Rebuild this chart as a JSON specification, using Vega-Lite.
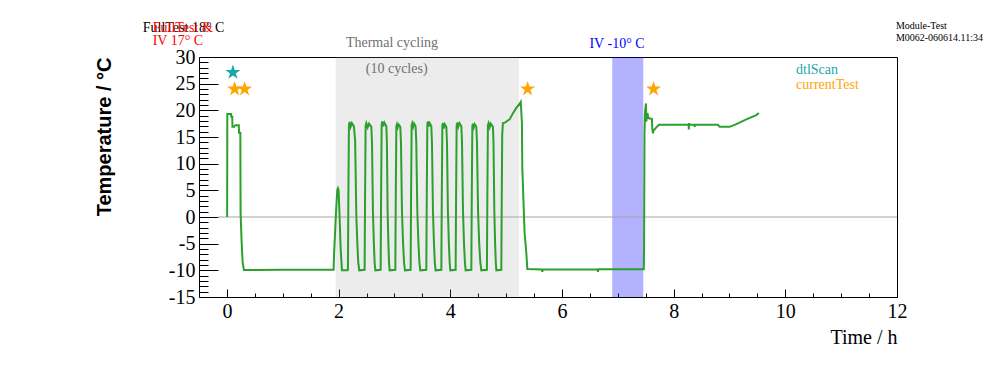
{
  "$schema": "https://vega.github.io/schema/vega-lite/v6.json",
  "width": 698,
  "height": 240,
  "autosize": {"type": "none"},
  "padding": {"left": 199, "top": 57, "right": 99, "bottom": 75},
  "background": "white",
  "config": {
    "view": {"stroke": "black", "strokeWidth": 1},
    "font": "Liberation Serif"
  },
  "resolve": {"axis": {"x": "independent", "y": "independent"}},
  "datasets": {
    "temperature": [
      {"time":0.004,"temp":0},{"time":0.007,"temp":19.3},{"time":0.072,"temp":19.3},{"time":0.078,"temp":18.8},{"time":0.096,"temp":18.8},{"time":0.099,"temp":16.9},{"time":0.13,"temp":16.9},{"time":0.15,"temp":17.2},{"time":0.213,"temp":17.2},{"time":0.217,"temp":15.8},{"time":0.24,"temp":15.8},{"time":0.245,"temp":0.7},{"time":0.263,"temp":-4.6},{"time":0.281,"temp":-8.4},{"time":0.304,"temp":-9.95},{"time":1.0,"temp":-9.9},{"time":1.911,"temp":-9.9},{"time":1.916,"temp":-7.7},{"time":1.941,"temp":-2},{"time":1.959,"temp":1.9},{"time":1.977,"temp":5.1},{"time":1.988,"temp":5.4},{"time":2.0,"temp":5.0},{"time":2.018,"temp":0},{"time":2.036,"temp":-5.8},{"time":2.06,"temp":-10},{"time":2.162,"temp":-10},
      {"time":2.167,"temp":-9.9},{"time":2.175,"temp":4},{"time":2.185,"temp":17.2},{"time":2.197,"temp":17.8},{"time":2.215,"temp":16.9},{"time":2.237,"temp":17.6},{"time":2.274,"temp":17.0},{"time":2.296,"temp":14.4},{"time":2.318,"temp":0},{"time":2.336,"temp":-5},{"time":2.352,"temp":-8.5},{"time":2.37,"temp":-10},
      {"time":2.466,"temp":-9.9},{"time":2.474,"temp":4},{"time":2.484,"temp":17.1},{"time":2.496,"temp":17.6},{"time":2.52,"temp":16.8},{"time":2.545,"temp":17.5},{"time":2.586,"temp":16.9},{"time":2.598,"temp":14},{"time":2.615,"temp":1},{"time":2.632,"temp":-5},{"time":2.645,"temp":-8.5},{"time":2.658,"temp":-10},
      {"time":2.753,"temp":-9.9},{"time":2.761,"temp":4},{"time":2.771,"temp":17.3},{"time":2.782,"temp":17.9},{"time":2.8,"temp":17.0},{"time":2.82,"temp":17.7},{"time":2.855,"temp":17.0},{"time":2.865,"temp":14},{"time":2.878,"temp":1},{"time":2.892,"temp":-5},{"time":2.903,"temp":-8.5},{"time":2.914,"temp":-10},
      {"time":3.016,"temp":-9.9},{"time":3.024,"temp":4},{"time":3.034,"temp":17.0},{"time":3.045,"temp":17.4},{"time":3.06,"temp":16.8},{"time":3.078,"temp":17.3},{"time":3.105,"temp":16.9},{"time":3.117,"temp":14},{"time":3.135,"temp":1},{"time":3.155,"temp":-5},{"time":3.172,"temp":-8.5},{"time":3.188,"temp":-10},
      {"time":3.29,"temp":-9.9},{"time":3.298,"temp":4},{"time":3.308,"temp":17.2},{"time":3.319,"temp":17.6},{"time":3.335,"temp":16.9},{"time":3.352,"temp":17.5},{"time":3.379,"temp":17.0},{"time":3.391,"temp":14},{"time":3.41,"temp":1},{"time":3.43,"temp":-5},{"time":3.447,"temp":-8.5},{"time":3.463,"temp":-10},
      {"time":3.571,"temp":-9.9},{"time":3.579,"temp":4},{"time":3.589,"temp":17.4},{"time":3.6,"temp":17.9},{"time":3.615,"temp":17.0},{"time":3.633,"temp":17.6},{"time":3.66,"temp":17.0},{"time":3.672,"temp":14},{"time":3.69,"temp":1},{"time":3.708,"temp":-5},{"time":3.723,"temp":-8.5},{"time":3.737,"temp":-10},
      {"time":3.84,"temp":-9.9},{"time":3.848,"temp":4},{"time":3.858,"temp":17.2},{"time":3.869,"temp":17.6},{"time":3.884,"temp":16.6},{"time":3.9,"temp":17.4},{"time":3.929,"temp":16.9},{"time":3.941,"temp":14},{"time":3.958,"temp":1},{"time":3.975,"temp":-5},{"time":3.989,"temp":-8.5},{"time":4.001,"temp":-10},
      {"time":4.096,"temp":-9.9},{"time":4.104,"temp":4},{"time":4.114,"temp":17.2},{"time":4.125,"temp":17.7},{"time":4.143,"temp":16.9},{"time":4.165,"temp":17.6},{"time":4.198,"temp":17.0},{"time":4.21,"temp":14},{"time":4.228,"temp":1},{"time":4.246,"temp":-5},{"time":4.262,"temp":-8.5},{"time":4.275,"temp":-10},
      {"time":4.377,"temp":-9.9},{"time":4.385,"temp":4},{"time":4.395,"temp":17.1},{"time":4.406,"temp":17.5},{"time":4.421,"temp":16.8},{"time":4.438,"temp":17.4},{"time":4.466,"temp":16.9},{"time":4.478,"temp":14},{"time":4.498,"temp":1},{"time":4.518,"temp":-5},{"time":4.538,"temp":-8.5},{"time":4.556,"temp":-10},
      {"time":4.656,"temp":-9.9},{"time":4.664,"temp":4},{"time":4.674,"temp":17.2},{"time":4.686,"temp":17.6},{"time":4.705,"temp":16.8},{"time":4.725,"temp":17.5},{"time":4.764,"temp":16.9},{"time":4.774,"temp":14},{"time":4.789,"temp":1},{"time":4.803,"temp":-5},{"time":4.815,"temp":-8.5},{"time":4.825,"temp":-10},
      {"time":4.914,"temp":-9.9},{"time":4.922,"temp":4},{"time":4.93,"temp":15.5},{"time":4.943,"temp":17.6},{"time":4.98,"temp":17.7},{"time":5.03,"temp":18.1},{"time":5.063,"temp":18.3},{"time":5.12,"temp":19.4},{"time":5.18,"temp":20.4},{"time":5.24,"temp":21.2},{"time":5.262,"temp":21.6},{"time":5.283,"temp":17.6},{"time":5.29,"temp":9.2},{"time":5.313,"temp":2.25},{"time":5.331,"temp":-3},{"time":5.362,"temp":-6.8},{"time":5.38,"temp":-9.75},{"time":5.64,"temp":-9.85},{"time":5.648,"temp":-10.3},{"time":5.656,"temp":-9.85},{"time":6.636,"temp":-9.85},{"time":6.644,"temp":-10.3},{"time":6.652,"temp":-9.8},{"time":7.465,"temp":-9.8},{"time":7.47,"temp":-6.2},{"time":7.478,"temp":15.7},{"time":7.486,"temp":19.5},{"time":7.504,"temp":21.3},{"time":7.51,"temp":17.9},{"time":7.529,"temp":19.5},{"time":7.552,"temp":18.5},{"time":7.611,"temp":18.4},{"time":7.617,"temp":16.6},{"time":7.63,"temp":15.7},{"time":7.64,"temp":16.2},{"time":7.69,"temp":16.8},{"time":7.737,"temp":17.3},{"time":8.227,"temp":17.3},{"time":8.268,"temp":17.3},{"time":8.272,"temp":16.4},{"time":8.276,"temp":17.6},{"time":8.28,"temp":17.3},{"time":8.37,"temp":17.3},{"time":8.376,"temp":16.9},{"time":8.382,"temp":17.3},{"time":8.793,"temp":17.3},{"time":8.823,"temp":16.9},{"time":9.003,"temp":16.9},{"time":9.122,"temp":17.4},{"time":9.301,"temp":18.3},{"time":9.48,"temp":19.1},{"time":9.527,"temp":19.5}
    ],
    "tests": [
      {"time":0.107,"temp":27.1,"test":"dtlScan"},
      {"time":0.138,"temp":24.0,"test":"currentTest"},
      {"time":0.317,"temp":24.0,"test":"currentTest"},
      {"time":5.385,"temp":24.0,"test":"currentTest"},
      {"time":7.64,"temp":24.0,"test":"currentTest"}
    ],
    "phases": [
      {"phase":"Thermal cycling","start":1.948,"end":5.23},
      {"phase":"IV -10° C","start":6.9,"end":7.457}
    ],
    "one": [{}]
  },
  "layer": [
    {
      "data": {"name": "phases"},
      "mark": {"type": "rect"},
      "encoding": {
        "x": {"field": "start", "type": "quantitative", "axis": null},
        "x2": {"field": "end"},
        "fill": {
          "field": "phase", "type": "nominal",
          "scale": {"domain": ["Thermal cycling", "IV -10° C"], "range": ["#8c8c8c", "#0000ff"]},
          "legend": null
        },
        "opacity": {
          "field": "phase", "type": "nominal",
          "scale": {"domain": ["Thermal cycling", "IV -10° C"], "range": [0.17, 0.3]},
          "legend": null
        }
      }
    },
    {
      "data": {"name": "one"},
      "mark": {"type": "rule", "color": "#aaa59e", "strokeWidth": 1},
      "encoding": {
        "x": {"datum": -0.16, "type": "quantitative", "axis": null},
        "x2": {"datum": 12},
        "y": {"datum": 0, "type": "quantitative", "axis": null}
      }
    },
    {
      "data": {"name": "temperature"},
      "mark": {"type": "line", "color": "#2ca02c", "strokeWidth": 2, "strokeJoin": "miter", "strokeCap": "butt"},
      "encoding": {
        "x": {
          "field": "time", "type": "quantitative",
          "scale": {"domain": [-0.5, 12], "nice": false, "zero": false},
          "axis": {
            "orient": "bottom",
            "values": [0,0.5,1,1.5,2,2.5,3,3.5,4,4.5,5,5.5,6,6.5,7,7.5,8,8.5,9,9.5,10,10.5,11,11.5,12],
            "tickSize": {"condition": {"test": "datum.value % 2 === 0", "value": -8}, "value": -4},
            "tickColor": "black",
            "tickWidth": 1,
            "labelExpr": "datum.value % 2 === 0 ? '' + datum.value : ''",
            "labelPadding": 12,
            "labelFont": "Liberation Serif",
            "labelFontSize": 20,
            "labelColor": "black",
            "labelFlush": false,
            "labelOverlap": false,
            "domain": false,
            "grid": false,
            "title": "Time / h",
            "titleFont": "Liberation Serif",
            "titleFontSize": 20,
            "titleFontWeight": "normal",
            "titleColor": "black",
            "titleAlign": "right",
            "titleBaseline": "alphabetic",
            "titleX": 698,
            "titleY": 46
          }
        },
        "y": {
          "field": "temp", "type": "quantitative",
          "scale": {"domain": [-15, 30], "nice": false, "zero": false},
          "axis": {
            "orient": "left",
            "values": [-15,-14,-13,-12,-11,-10,-9,-8,-7,-6,-5,-4,-3,-2,-1,0,1,2,3,4,5,6,7,8,9,10,11,12,13,14,15,16,17,18,19,20,21,22,23,24,25,26,27,28,29,30],
            "tickSize": {"condition": {"test": "datum.value % 5 === 0", "value": -19}, "value": -9},
            "tickColor": "black",
            "tickWidth": 1,
            "labelExpr": "datum.value % 5 === 0 ? '' + datum.value : ''",
            "labelPadding": 23,
            "labelFont": "Liberation Serif",
            "labelFontSize": 20,
            "labelColor": "black",
            "labelFlush": false,
            "labelOverlap": false,
            "domain": false,
            "grid": false,
            "title": "Temperature / °C",
            "titleFont": "Liberation Sans",
            "titleFontSize": 20,
            "titleFontWeight": "bold",
            "titleColor": "black",
            "titleAngle": 270,
            "titleAlign": "right",
            "titleBaseline": "alphabetic",
            "titleX": -88.5,
            "titleY": 0
          }
        }
      }
    },
    {
      "data": {"name": "tests"},
      "mark": {"type": "point", "filled": true, "opacity": 1, "size": 250,
        "shape": "M0,-1L0.2245,-0.309L0.951,-0.309L0.363,0.118L0.588,0.809L0,0.382L-0.588,0.809L-0.363,0.118L-0.951,-0.309L-0.2245,-0.309Z"},
      "encoding": {
        "x": {"field": "time", "type": "quantitative", "axis": null},
        "y": {"field": "temp", "type": "quantitative", "axis": null},
        "color": {
          "field": "test", "type": "nominal",
          "scale": {"domain": ["dtlScan", "currentTest"], "range": ["#1aa7a7", "#ffa500"]},
          "legend": {
            "title": null,
            "orient": "none",
            "legendX": 583,
            "legendY": 6,
            "padding": 0,
            "symbolSize": 0,
            "symbolOpacity": 0,
            "symbolStrokeWidth": 0,
            "labelOffset": 0,
            "labelFont": "Liberation Serif",
            "labelFontSize": 14,
            "rowPadding": 1,
            "encode": {"labels": {"update": {"fill": {"scale": "color", "field": "value"}}}}
          }
        }
      }
    },
    {
      "data": {"name": "one"},
      "mark": {"type": "text", "font": "Liberation Serif", "fontSize": 14, "align": "left", "baseline": "alphabetic", "fill": "black"},
      "encoding": {"x": {"datum": -1.508, "type": "quantitative", "axis": null}, "y": {"datum": 34.7, "type": "quantitative", "axis": null}, "text": {"value": "FullTest 18° C"}}
    },
    {
      "data": {"name": "one"},
      "mark": {"type": "text", "font": "Liberation Serif", "fontSize": 14, "align": "left", "baseline": "alphabetic", "fill": "#ff0000"},
      "encoding": {"x": {"datum": -1.329, "type": "quantitative", "axis": null}, "y": {"datum": 34.7, "type": "quantitative", "axis": null}, "text": {"value": "FullTest &"}}
    },
    {
      "data": {"name": "one"},
      "mark": {"type": "text", "font": "Liberation Serif", "fontSize": 14, "align": "left", "baseline": "alphabetic", "fill": "#ff0000"},
      "encoding": {"x": {"datum": -1.329, "type": "quantitative", "axis": null}, "y": {"datum": 32.25, "type": "quantitative", "axis": null}, "text": {"value": "IV 17° C"}}
    },
    {
      "data": {"name": "one"},
      "mark": {"type": "text", "font": "Liberation Serif", "fontSize": 14, "align": "center", "baseline": "alphabetic", "fill": "#707070"},
      "encoding": {"x": {"datum": 2.956, "type": "quantitative", "axis": null}, "y": {"datum": 31.82, "type": "quantitative", "axis": null}, "text": {"value": "Thermal cycling"}}
    },
    {
      "data": {"name": "one"},
      "mark": {"type": "text", "font": "Liberation Serif", "fontSize": 14, "align": "center", "baseline": "alphabetic", "fill": "#707070"},
      "encoding": {"x": {"datum": 3.04, "type": "quantitative", "axis": null}, "y": {"datum": 26.94, "type": "quantitative", "axis": null}, "text": {"value": "(10 cycles)"}}
    },
    {
      "data": {"name": "one"},
      "mark": {"type": "text", "font": "Liberation Serif", "fontSize": 14, "align": "center", "baseline": "alphabetic", "fill": "#0000ff"},
      "encoding": {"x": {"datum": 6.986, "type": "quantitative", "axis": null}, "y": {"datum": 31.63, "type": "quantitative", "axis": null}, "text": {"value": "IV -10° C"}}
    },
    {
      "data": {"name": "one"},
      "mark": {"type": "text", "font": "Liberation Serif", "fontSize": 10, "align": "left", "baseline": "alphabetic", "fill": "black"},
      "encoding": {"x": {"datum": 11.98, "type": "quantitative", "axis": null}, "y": {"datum": 35.25, "type": "quantitative", "axis": null}, "text": {"value": "Module-Test"}}
    },
    {
      "data": {"name": "one"},
      "mark": {"type": "text", "font": "Liberation Serif", "fontSize": 10, "align": "left", "baseline": "alphabetic", "fill": "black"},
      "encoding": {"x": {"datum": 11.98, "type": "quantitative", "axis": null}, "y": {"datum": 33.0, "type": "quantitative", "axis": null}, "text": {"value": "M0062-060614.11:34"}}
    }
  ]
}
